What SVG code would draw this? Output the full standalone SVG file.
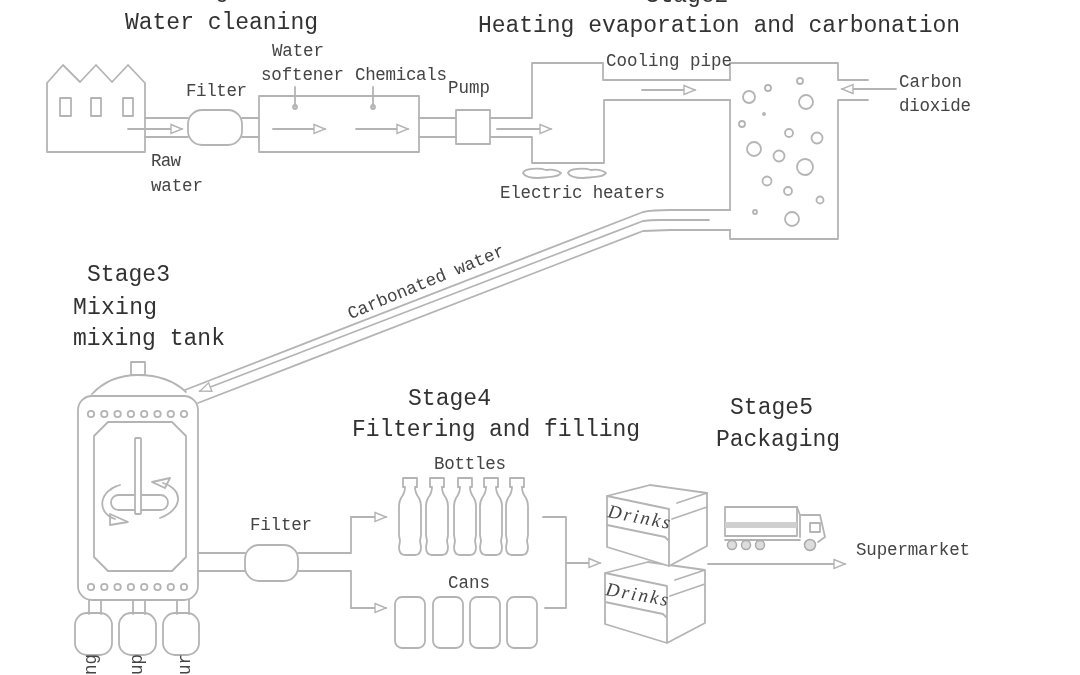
<svg xmlns="http://www.w3.org/2000/svg" width="1080" height="675" viewBox="0 0 1080 675">
<style>
.s{fill:none;stroke:#b4b4b4;stroke-width:1.8;stroke-linejoin:round;stroke-linecap:round}
.w{fill:#fff;stroke:#b4b4b4;stroke-width:1.8;stroke-linejoin:round}
.a{marker-end:url(#ah)}
.t{font-family:"Liberation Mono","DejaVu Sans Mono",monospace;fill:#3c3c3c}
.h{font-size:23px;fill:#333}
.l{font-size:17.5px;fill:#444}
.d{font-family:"Liberation Serif",serif;font-size:19px;font-style:italic;fill:#444}
</style>
<defs>
<marker id="ah" markerUnits="userSpaceOnUse" markerWidth="14" markerHeight="12" refX="12" refY="6" orient="auto"><path d="M1,1.5 L12,6 L1,10.500 Z" fill="#fff" stroke="#b4b4b4" stroke-width="1.400"/></marker>
<filter id="b" x="-2%" y="-2%" width="104%" height="104%"><feGaussianBlur stdDeviation="0.55"/></filter>
</defs>
<rect width="1080" height="675" fill="#fff"/>
<g filter="url(#b)">
<g id="connectors">
<path class="s" d="M145,118H188M145,137H188M242,118H259M242,137H259M419,118H456M419,137H456"/>
<path class="s a" d="M128,129H182"/>
<path class="s a" d="M273,129H325"/>
<path class="s a" d="M356,129H408"/>
<path class="s" d="M295,87V107M373,87V107"/>
<circle class="s" cx="295" cy="107" r="2"/><circle class="s" cx="373" cy="107" r="2"/>
<path class="s" d="M490,118H532V63H603V80H730M490,137H532V163H604V100H730"/>
<path class="s a" d="M497,129H551"/>
<path class="s a" d="M642,90H695"/>
<path class="s a" d="M896,89H842"/>
<path class="s" d="M730,210H670Q652,210 643,212L185,390"/>
<path class="s" d="M730,230H670L643,231L198,403"/>
<path class="s a" d="M709,220H660Q650,220 643,221L200,391"/>
<path class="s" d="M198,553H245M198,571H245M298,553H351V517H375M298,571H351V608H375"/>
<path class="s a" d="M351,517H386"/>
<path class="s a" d="M351,608H386"/>
<path class="s" d="M543,517H566V608H545"/>
<path class="s a" d="M566,563H600"/>
<path class="s a" d="M708,564H845"/>
<path class="s" d="M89,600V614M101,600V614M133,600V614M145,600V614M177,600V614M189,600V614"/>
</g>
<g id="factory">
<path class="s" d="M47,152V83L63,65L80,82L96,65L112,82L128,65L145,83V152Z"/>
<rect class="s" x="60" y="98" width="11" height="18"/><rect class="s" x="91" y="98" width="10" height="18"/><rect class="s" x="123" y="98" width="10" height="18"/>
</g>
<g id="filter1"><rect class="s" x="188" y="110" width="54" height="35" rx="14"/></g>
<g id="softener"><rect class="s" x="259" y="96" width="160" height="56"/></g>
<g id="pump"><rect class="s" x="456" y="110" width="34" height="34"/></g>
<g id="heaters">
<path class="s" d="M523,173C524,168 540,168 546,170C552,169 557,170 561,173C558,178 545,177 538,178C530,178 525,177 523,173Z"/>
<path class="s" d="M568,173C569,168 585,168 591,170C597,169 602,170 606,173C603,178 590,177 583,178C575,178 570,177 568,173Z"/>
</g>
<g id="carbonator">
<path class="s" d="M730,80V63H838V80H868M868,100H838V239H730V230M730,210V100"/>
<g class="s">
<circle cx="749" cy="97" r="6"/><circle cx="768" cy="88" r="3"/><circle cx="800" cy="81" r="3"/><circle cx="806" cy="102" r="7"/><circle cx="764" cy="114" r="1"/><circle cx="742" cy="124" r="3"/><circle cx="789" cy="133" r="4"/><circle cx="817" cy="138" r="5.500"/><circle cx="754" cy="149" r="7"/><circle cx="779" cy="156" r="5.500"/><circle cx="805" cy="167" r="8"/><circle cx="767" cy="181" r="4.500"/><circle cx="788" cy="191" r="4"/><circle cx="820" cy="200" r="3.500"/><circle cx="755" cy="212" r="2"/><circle cx="792" cy="219" r="7"/>
</g>
</g>
<g id="mixing-tank">
<rect class="s" x="131" y="362" width="14" height="13"/>
<path class="s" d="M92,394Q110,375 138,375Q168,375 186,392"/>
<rect class="s" x="78" y="396" width="120" height="204" rx="14"/>
<path class="s" d="M108,422H172L186,436V557L172,571H108L94,557V436Z"/>
<g class="s">
<circle cx="91" cy="414" r="3.200"/><circle cx="104.300" cy="414" r="3.200"/><circle cx="117.600" cy="414" r="3.200"/><circle cx="130.900" cy="414" r="3.200"/><circle cx="144.200" cy="414" r="3.200"/><circle cx="157.500" cy="414" r="3.200"/><circle cx="170.800" cy="414" r="3.200"/><circle cx="184" cy="414" r="3.200"/>
<circle cx="91" cy="587" r="3.200"/><circle cx="104.300" cy="587" r="3.200"/><circle cx="117.600" cy="587" r="3.200"/><circle cx="130.900" cy="587" r="3.200"/><circle cx="144.200" cy="587" r="3.200"/><circle cx="157.500" cy="587" r="3.200"/><circle cx="170.800" cy="587" r="3.200"/><circle cx="184" cy="587" r="3.200"/>
</g>
<rect class="s" x="111" y="495" width="57" height="15" rx="7.500"/>
<rect class="w" x="135" y="438" width="6" height="76" rx="1"/>
<path class="s" d="M120,485C100,490 95,512 115,519"/>
<path class="s" d="M110,514L128,522L110,525Z"/>
<path class="s" d="M160,518C182,510 185,490 163,483"/>
<path class="s" d="M152,482L170,478L165,488Z"/>
<rect class="s" x="75" y="613" width="37" height="42" rx="12"/>
<rect class="s" x="119" y="613" width="37" height="42" rx="12"/>
<rect class="s" x="163" y="613" width="36" height="42" rx="12"/>
</g>
<g id="filter2"><rect class="s" x="245" y="545" width="53" height="36" rx="14"/></g>
<g id="bottles">
<path id="bt" class="s" d="M403,478H417V487H415Q415,493 419,498Q421,502 421,506V535L420,541L421,547Q421,555 415,555H405Q399,555 399,547L400,541L399,535V506Q399,502 401,498Q405,493 405,487H403Z"/>
<use href="#bt" x="27"/><use href="#bt" x="55"/><use href="#bt" x="81"/><use href="#bt" x="107"/>
</g>
<g id="cans">
<rect class="s" x="395" y="597" width="30" height="51" rx="7"/><rect class="s" x="433" y="597" width="30" height="51" rx="7"/><rect class="s" x="470" y="597" width="30" height="51" rx="7"/><rect class="s" x="507" y="597" width="30" height="51" rx="7"/>
</g>
<g id="box2" transform="translate(-2,77)">
<path class="s" d="M607,496L650,485M650,485L707,493V546L669,566L607,547V496L669,509V566M607,525L665,537L669,541M672,519L707,507M677,503L707,493"/>
</g>
<g id="box1">
<path class="w" d="M607,496L650,485L707,493V546L669,566L607,547Z"/>
<path class="s" d="M607,496L669,509V566M607,525L665,537L669,541M672,519L707,507M677,503L707,493"/>
</g>
<g id="truck">
<rect class="s" x="725" y="507" width="72" height="29"/>
<rect x="725" y="522" width="72" height="6" fill="#cfcfcf"/>
<path class="s" d="M797,507L800,515V537M800,515H820L825,537L818,542M725,540H800"/>
<rect class="s" x="810" y="523" width="10" height="9"/>
<g fill="#ddd" stroke="#aaa" stroke-width="1.500"><circle cx="732" cy="545" r="4.500"/><circle cx="746" cy="545" r="4.500"/><circle cx="760" cy="545" r="4.500"/><circle cx="810" cy="545" r="5.500"/></g>
</g>
<g id="labels">
<text class="t h" x="215" y="-3" text-anchor="middle">Stage1</text>
<text class="t h" x="687" y="2" text-anchor="middle">Stage2</text>
<text class="t h" x="125" y="29" textLength="193">Water cleaning</text>
<text class="t h" x="478" y="32" textLength="482">Heating evaporation and carbonation</text>
<text class="t l" x="272" y="56" textLength="52">Water</text>
<text class="t l" x="261" y="80" textLength="83">softener</text>
<text class="t l" x="355" y="80" textLength="92">Chemicals</text>
<text class="t l" x="186" y="96" textLength="61">Filter</text>
<text class="t l" x="448" y="93" textLength="42">Pump</text>
<text class="t l" x="151" y="166" textLength="30">Raw</text>
<text class="t l" x="151" y="191" textLength="52">water</text>
<text class="t l" x="606" y="66" textLength="126">Cooling pipe</text>
<text class="t l" x="500" y="198" textLength="165">Electric heaters</text>
<text class="t l" x="899" y="87" textLength="63">Carbon</text>
<text class="t l" x="899" y="111" textLength="72">dioxide</text>
<text class="t l" transform="translate(428,287) rotate(-22.500)" text-anchor="middle">Carbonated water</text>
<text class="t h" x="87" y="281" textLength="83">Stage3</text>
<text class="t h" x="73" y="314" textLength="84">Mixing</text>
<text class="t h" x="73" y="345" textLength="152">mixing tank</text>
<text class="t h" x="408" y="405" textLength="83">Stage4</text>
<text class="t h" x="352" y="436" textLength="288">Filtering and filling</text>
<text class="t h" x="730" y="414" textLength="83">Stage5</text>
<text class="t h" x="716" y="446" textLength="124">Packaging</text>
<text class="t l" x="250" y="530" textLength="62">Filter</text>
<text class="t l" x="434" y="469" textLength="72">Bottles</text>
<text class="t l" x="448" y="588" textLength="42">Cans</text>
<text class="t l" x="856" y="555" textLength="114">Supermarket</text>
<text class="d" transform="translate(607,517) rotate(11)" textLength="63">Drinks</text>
<text class="d" transform="translate(605,595) rotate(10)" textLength="63">Drinks</text>
<text class="t l" transform="translate(96,654) rotate(-90)" text-anchor="end">ng</text>
<text class="t l" transform="translate(142,654) rotate(-90)" text-anchor="end">up</text>
<text class="t l" transform="translate(190,654) rotate(-90)" text-anchor="end">ur</text>
</g>
</g>
</svg>
